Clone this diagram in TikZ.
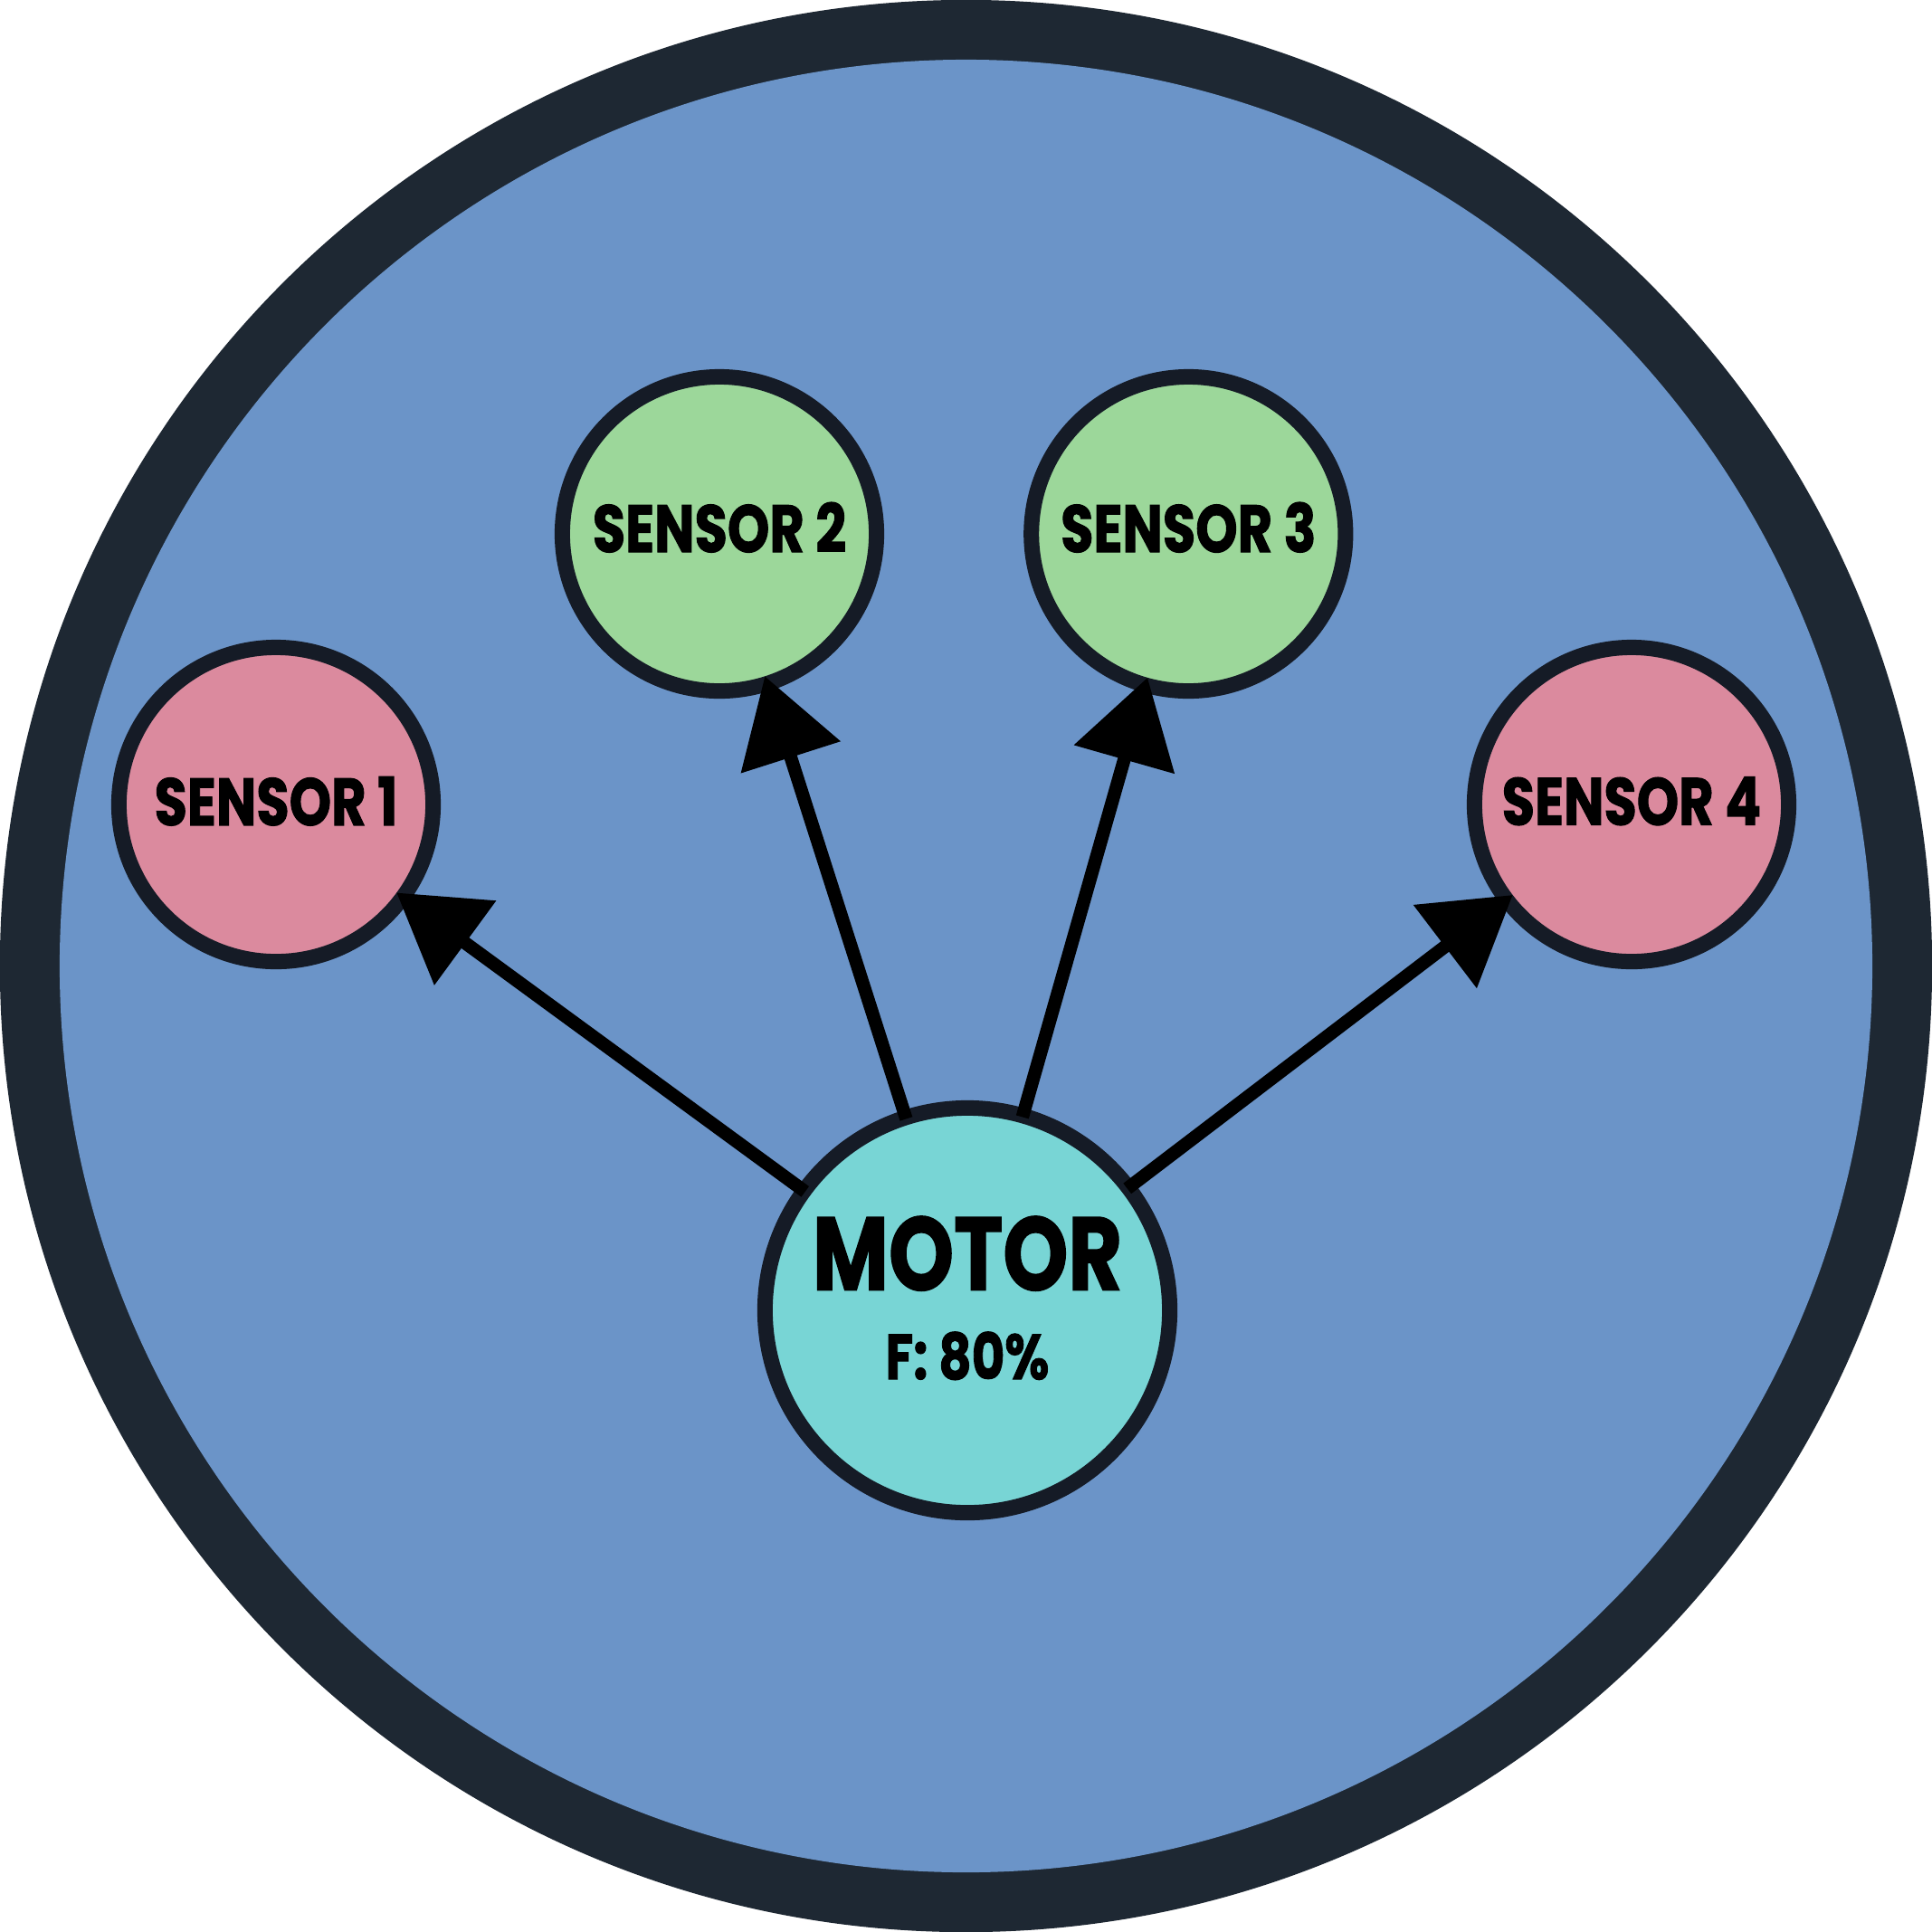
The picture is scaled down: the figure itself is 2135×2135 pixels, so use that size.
\documentclass[tikz,border=0pt]{standalone}
\usepackage{fontspec}
\usepackage{graphicx}
\setmainfont{Poppins}[BoldFeatures={FakeBold=1.5}]
\usetikzlibrary{positioning,arrows.meta}

\definecolor{ring}{HTML}{1E2833}
\definecolor{rim}{HTML}{151B26}
\definecolor{field}{HTML}{6B94C8}
\definecolor{sensred}{HTML}{DB8A9E}
\definecolor{sensgreen}{HTML}{9CD79A}
\definecolor{motorcyan}{HTML}{78D5D5}

\newcommand{\squeeze}[1]{\scalebox{0.8}[1]{#1}}

\tikzset{
	x=0.01cm, y=-0.01cm, % one unit is one pixel of the sketch
	node distance=1.54cm, % gap between the two upper sensors
	sensor/.style={circle, draw=rim, line width=0.17cm, minimum size=3.47cm, inner sep=0pt,
		font=\fontsize{21}{25}\selectfont\bfseries}, % the four small circles
	motor/.style={circle, draw=rim, line width=0.17cm, minimum size=4.47cm, inner sep=0pt,
		fill=motorcyan, align=center, font=\fontsize{20}{28}\selectfont\bfseries}, % the big circle in the middle
	link/.style={-{Triangle[length=0.94cm,width=1.12cm]}, line width=0.145cm,
		shorten >=-0.17cm, shorten <=-0.1cm}, % thick arrows with big heads
}

\begin{document}
\begin{tikzpicture}
	\useasboundingbox (0,0) rectangle (2135,2135);
	% the board
	\fill[ring] (1067.5,1067.5) circle (10.67cm);
	\fill[field] (1067.5,1067.5) circle (10.01cm);

	\node[motor] (motor) at (1069,1448)
		{{\fontsize{32.6}{28}\selectfont\squeeze{MOTOR}}\\\squeeze{F: 80\%}\rule[-0.28cm]{0pt}{0.28cm}};
	\node[sensor,fill=sensred] (s1) at (305,889) {\raisebox{0.08cm}{\squeeze{SENSOR 1}}};
	\node[sensor,fill=sensgreen] (s2) at (795,590) {\raisebox{0.15cm}{\squeeze{SENSOR 2}}};
	\node[sensor,fill=sensgreen,right=of s2] (s3) {\raisebox{0.15cm}{\squeeze{SENSOR 3}}};
	\node[sensor,fill=sensred] (s4) at (1803,889) {\raisebox{0.08cm}{\squeeze{SENSOR 4}}};

	\draw[link] (motor) -- (s1);
	\draw[link] (motor) -- (s2);
	\draw[link] (motor) -- (s3);
	\draw[link] (motor) -- (s4);
\end{tikzpicture}
\end{document}
